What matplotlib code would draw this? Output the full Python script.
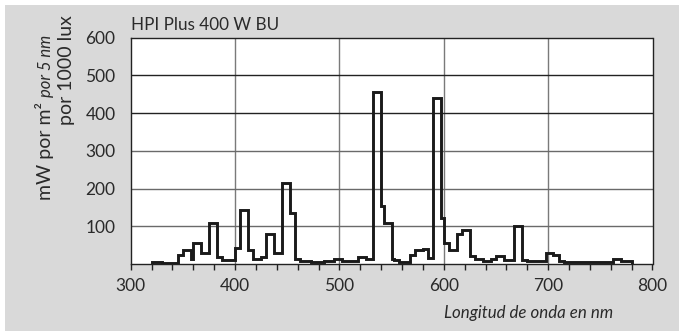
import numpy as np
import matplotlib
matplotlib.use("Agg")
import matplotlib.pyplot as plt
from matplotlib.patches import Rectangle

plt.rcParams['font.family'] = ['Lato', 'DejaVu Sans']

# Spectrum: bin edges (nm) and level in each bin
edges_nm = [320, 330, 337.5, 345, 350, 357.5, 360, 367.5, 375, 382.5, 387.5,
            400, 405, 412.5, 417.5, 425, 430, 437.5, 445, 452.5, 457.5, 462.5,
            472.5, 485, 495, 502.5, 517.5, 525, 532.5, 540, 542.5, 550, 552.5,
            557.5, 567.5, 572.5, 580, 585, 590, 597.5, 600, 605, 612.5, 617.5,
            625, 630, 637.5, 645, 650, 657.5, 667.5, 675, 680, 685, 697.5, 705,
            710, 715, 762.5, 770, 780]
level = [4, 2, 3, 24, 38, 12, 56, 30, 110, 18, 10,
         42, 143, 37, 12, 18, 80, 28, 216, 134, 12,
         9, 6, 9, 12, 9, 18, 12, 457, 155, 110, 12,
         10, 6, 24, 37, 40, 15, 440, 122, 56, 37, 80,
         90, 21, 14, 9, 12, 22, 10, 100, 10, 7, 8,
         29, 23, 8, 5, 12, 8]

title = "HPI Plus 400 W BU"
x_ticks = [300, 400, 500, 600, 700, 800]
y_ticks = [100, 200, 300, 400, 500, 600]

fig = plt.figure(figsize=(6.79, 3.31), dpi=100)
fig.patch.set_facecolor('white')
fig.patches.append(Rectangle((5 / 679, 0), 1, 326 / 331, transform=fig.transFigure,
                             facecolor='#d9d9d9', edgecolor='none', zorder=-10))

ax = fig.add_axes([130.7 / 679, 67 / 331, 521.8 / 679, 226.3 / 331])
ax.set_facecolor('white')

# grid
for x in [400, 500, 600, 700]:
    ax.axvline(x, color='#7a7a7a', lw=1.0, zorder=1)
for y in [100, 200, 300]:
    ax.axhline(y, color='#6a6a6a', lw=1.0, zorder=1)
for y in [400, 500]:
    ax.axhline(y, color='#222222', lw=1.0, zorder=1)

ax.stairs(level, edges_nm, baseline=0, color='#1a1a1a', lw=2.1, zorder=3)

ax.set_xlim(300, 800)
ax.set_ylim(0, 600)
ax.set_xticks(x_ticks)
ax.set_xticks(np.arange(300, 801, 20), minor=True)
ax.set_yticks(y_ticks)
ax.tick_params(axis='x', which='both', direction='out', length=4, width=1,
               color='#222222', pad=6, labelsize=12.5, labelcolor='#2a2a2a')
ax.tick_params(axis='y', length=0, pad=11, labelsize=12.5, labelcolor='#2a2a2a')
for s in ax.spines.values():
    s.set_color('#222222')
    s.set_linewidth(1.0)

fig.text(130.7 / 679, 301 / 331, title, ha='left', va='baseline',
         fontsize=12.3, color='#2a2a2a')

# y label pieces (rotated)
fig.text(51 / 679, (331 - 200) / 331, "mW por m²", rotation=90,
         rotation_mode='anchor', ha='left', va='baseline', fontsize=14,
         color='#2a2a2a')
fig.text(51 / 679, (331 - 97) / 331, "por 5 nm", rotation=90,
         rotation_mode='anchor', ha='left', va='baseline', fontsize=12,
         style='italic', color='#2a2a2a')
fig.text(72 / 679, (331 - 125) / 331, "por 1000 lux", rotation=90,
         rotation_mode='anchor', ha='left', va='baseline', fontsize=14,
         color='#2a2a2a')

fig.text(613 / 679, 13 / 331, "Longitud de onda en nm", ha='right',
         va='baseline', fontsize=12.2, style='italic', color='#2a2a2a')

fig.savefig("out.png", dpi=100)
